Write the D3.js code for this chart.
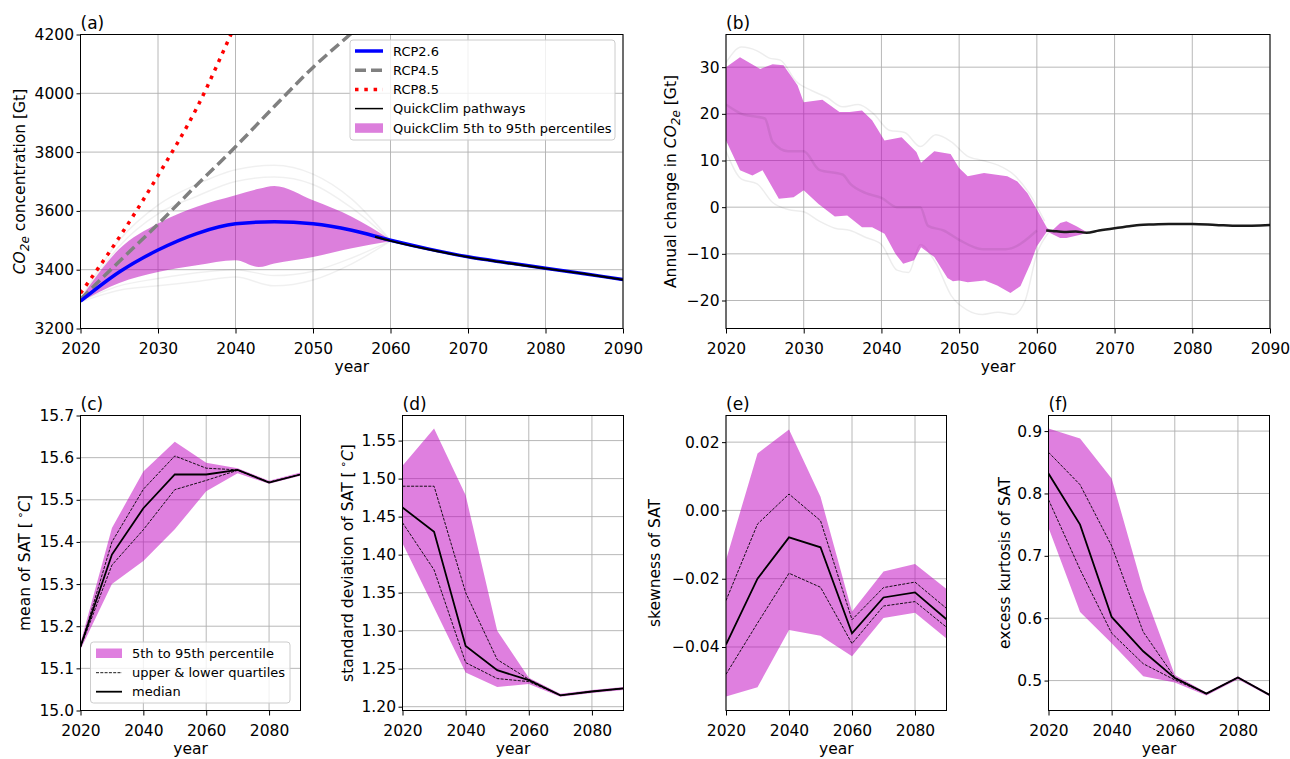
<!DOCTYPE html>
<html>
<head>
<meta charset="utf-8">
<script src="https://cdn.jsdelivr.net/npm/d3@7"></script>
<style>
body{margin:0;background:#fff;}
text{font-family:"DejaVu Sans",sans-serif;}
</style>
</head>
<body>
<script>
// ---- panel (a): CO2e concentration
var rcpYears   = [2020,2025,2030,2035,2040,2045,2050,2055,2060,2065,2070,2075,2080,2085,2090];
var rcp26      = [3293,3392,3467,3523,3556,3563,3556,3534,3500,3470,3444,3424,3405,3386,3367];
var rcp45Years = [2020,2025,2030,2035,2040,2045,2050,2055,2060];
var rcp45      = [3300,3428,3555,3688,3818,3955,4088,4205,4320];
var rcp85Years = [2020,2025,2030,2035,2040,2045];
var rcp85      = [3320,3510,3720,3950,4234,4520];
var bandAYears = [2020,2025,2030,2035,2040,2043,2045,2050,2055,2060];
var bandAHi    = [3300,3470,3557,3614,3653,3675,3685,3636,3580,3502];
var bandALo    = [3290,3355,3392,3415,3432,3409,3421,3443,3473,3497];
var pathAYears = [2020,2025,2030,2035,2040,2045,2050,2055,2060];
var pathAHi    = [3300,3500,3620,3690,3740,3755,3725,3640,3500];
var pathAHi2   = [3298,3480,3590,3650,3700,3715,3690,3610,3500];
var pathALo    = [3290,3330,3345,3360,3375,3345,3365,3420,3497];
var pathALo2   = [3292,3345,3370,3390,3400,3380,3395,3440,3498];
var tailAYears = [2058,2060,2065,2070,2075,2080,2085,2090];
var tailA      = [3512,3498,3469,3443,3423,3404,3386,3366];

// ---- panel (b): annual change
var bandBHi = [[2020,30],[2021.8,32.1],[2024.4,29.6],[2026,30.6],[2027.4,30.4],[2029.2,26.1],[2030,22.5],[2032.4,23.0],[2034.6,20.4],[2035.9,20.4],[2037.5,20.7],[2038.8,18.6],[2040.4,14.3],[2042.6,15.0],[2044.5,11.8],[2045.1,9.5],[2046.8,12.0],[2048.9,11.4],[2050,8.4],[2051.1,6.6],[2053.2,7.3],[2056.2,6.6],[2057.5,5.5],[2058.8,3.0],[2060,-0.5],[2061.3,-4.4],[2061.9,-5.1],[2063,-3.4],[2063.8,-3.0],[2065.1,-4.1],[2066.4,-5.3]];
var bandBLo = [[2020,14.3],[2021.8,7.9],[2023.4,6.8],[2024.7,7.9],[2026.8,1.8],[2028.7,2.1],[2030,3.6],[2031.9,0.7],[2034,-2.0],[2035.6,-1.8],[2037.5,-4.3],[2038.8,-4.3],[2040.4,-5.7],[2041.8,-10],[2042.8,-12.1],[2044.2,-11.4],[2045.1,-8.6],[2046.8,-10.7],[2048.5,-15.2],[2049.2,-15.9],[2050,-15.7],[2051.1,-16.1],[2053.3,-15.7],[2054.9,-16.8],[2056.6,-18.4],[2057.9,-16.9],[2059.2,-12.0],[2060,-8.4],[2061.3,-5.2],[2063,-6.6],[2063.8,-6.6],[2065.6,-5.9],[2066.4,-5.5]];
var pathBHi = [[2020,31],[2022,34.3],[2024,33.5],[2025.5,32],[2027,31.5],[2029,27],[2031,25],[2033,23.5],[2035,21.5],[2037,22],[2039,20],[2041,16.5],[2043,16],[2045,13],[2047,15.5],[2049,14],[2051,11],[2053,10],[2055,9],[2057,7],[2059,3],[2061,-3]];
var pathBLo = [[2020,12],[2022,6],[2024,5],[2026,1],[2028,-0.5],[2030,-1],[2032,-3],[2034,-4.5],[2036,-5],[2038,-6.5],[2040,-8],[2042,-13.5],[2043.5,-14],[2045,-8],[2047,-12],[2049,-19],[2051,-22],[2053,-23],[2055,-22.5],[2057,-23],[2058.5,-20],[2060,-10],[2061.5,-5.5]];
var pathBMid = [[2020,22],[2022,20],[2025,19],[2026,14],[2028,12],[2030,12],[2032,8],[2035,7],[2036,5],[2038,3],[2040,2],[2042,0],[2045,0],[2046,-4],[2048,-5],[2050,-7],[2053,-9],[2056,-9],[2060,-5]];
var tailB   = [[2061.2,-5],[2062,-5.1],[2063.5,-5.3],[2065,-5.2],[2066.4,-5.5],[2068,-5.0],[2070,-4.5],[2071.9,-4.1],[2073.2,-3.8],[2075,-3.7],[2077,-3.6],[2080,-3.6],[2083,-3.8],[2086,-4.0],[2090,-3.8]];

// ---- panels (c)-(f): SAT statistics per decade
var decades = [2020,2030,2040,2050,2060,2070,2080,2090];
var meanP95 = [15.16,15.433,15.567,15.638,15.588,15.575,15.545,15.565];
var meanP05 = [15.145,15.30,15.355,15.43,15.52,15.563,15.538,15.557];
var meanQ75 = [15.15,15.40,15.525,15.604,15.575,15.571,15.542,15.56];
var meanQ25 = [15.15,15.345,15.429,15.524,15.546,15.570,15.541,15.56];
var meanMed = [15.152,15.37,15.48,15.56,15.56,15.571,15.541,15.56];

var sdP95 = [1.517,1.566,1.478,1.300,1.238,1.217,1.222,1.226];
var sdP05 = [1.415,1.330,1.245,1.226,1.230,1.213,1.218,1.222];
var sdQ75 = [1.49,1.49,1.35,1.262,1.236,1.215,1.220,1.224];
var sdQ25 = [1.442,1.38,1.258,1.237,1.233,1.215,1.220,1.224];
var sdMed = [1.462,1.43,1.28,1.248,1.235,1.215,1.220,1.224];

var skP95 = [-0.0145,0.0167,0.0237,0.004,-0.0296,-0.0179,-0.0157,-0.023];
var skP05 = [-0.0545,-0.0518,-0.035,-0.0367,-0.0427,-0.0315,-0.030,-0.0375];
var skQ75 = [-0.0264,-0.004,0.0048,-0.003,-0.032,-0.0226,-0.021,-0.0287];
var skQ25 = [-0.048,-0.033,-0.0184,-0.0225,-0.039,-0.028,-0.0267,-0.0342];
var skMed = [-0.0393,-0.02,-0.0079,-0.0108,-0.036,-0.0255,-0.024,-0.0319];

var kuP95 = [0.904,0.888,0.824,0.646,0.509,0.481,0.507,0.479];
var kuP05 = [0.745,0.61,0.56,0.507,0.497,0.476,0.502,0.475];
var kuQ75 = [0.866,0.814,0.716,0.578,0.505,0.479,0.505,0.477];
var kuQ25 = [0.79,0.678,0.576,0.527,0.501,0.479,0.505,0.477];
var kuMed = [0.832,0.75,0.602,0.547,0.504,0.479,0.505,0.477];

var topTicksX = [2020,2030,2040,2050,2060,2070,2080,2090];
var lowTicksX = [2020,2040,2060,2080];

var svg = d3.select("body").append("svg").attr("width",1290).attr("height",759);

function makePanel(p){
  var x = d3.scaleLinear().domain(p.xDomain).range([p.left,p.right]);
  var y = d3.scaleLinear().domain(p.yDomain).range([p.bottom,p.top]);
  var g = svg.append("g");
  g.append("g").selectAll("line").data(p.xTicks).enter().append("line")
    .attr("x1",d=>x(d)).attr("x2",d=>x(d)).attr("y1",p.top).attr("y2",p.bottom)
    .attr("stroke","#b0b0b0").attr("stroke-width",0.9);
  g.append("g").selectAll("line").data(p.yTicks).enter().append("line")
    .attr("y1",d=>y(d)).attr("y2",d=>y(d)).attr("x1",p.left).attr("x2",p.right)
    .attr("stroke","#b0b0b0").attr("stroke-width",0.9);
  svg.append("clipPath").attr("id",p.id).append("rect")
    .attr("x",p.left).attr("y",p.top).attr("width",p.right-p.left).attr("height",p.bottom-p.top);
  var plot = g.append("g").attr("clip-path","url(#"+p.id+")");

  var xa = g.append("g").attr("transform","translate(0,"+p.bottom+")")
    .call(d3.axisBottom(x).tickValues(p.xTicks).tickFormat(d3.format("d")).tickSize(5).tickPadding(9));
  var ya = g.append("g").attr("transform","translate("+p.left+",0)")
    .call(d3.axisLeft(y).tickValues(p.yTicks).tickFormat(p.yFormat).tickSize(4).tickPadding(2.5));
  [xa,ya].forEach(function(a){
    a.select(".domain").remove();
    a.attr("font-family",null).attr("font-size",null);
    a.selectAll("text").attr("font-size",15.5).attr("fill","#000");
    a.selectAll("line").attr("stroke","#000").attr("stroke-width",1);
  });

  g.append("text").attr("x",(p.left+p.right)/2).attr("y",p.bottom+43)
    .attr("text-anchor","middle").attr("font-size",15.5).text("year");
  g.append("text").attr("x",p.left).attr("y",p.top-6)
    .attr("font-size",17).text(p.title);

  var yl = g.append("text").attr("transform","translate("+p.ylabelX+","+((p.top+p.bottom)/2)+") rotate(-90)")
    .attr("text-anchor","middle").attr("font-size",15.5);
  p.ylabel.forEach(function(s){
    var t = yl.append("tspan").text(s.t);
    if (s.it) t.attr("font-style","italic");
    if (s.fs) t.attr("font-size",s.fs);
    if (s.dy) t.attr("dy",s.dy);
  });
  return {x:x, y:y, g:g, plot:plot, p:p};
}

function frame(P){
  var p = P.p;
  P.g.append("rect").attr("x",p.left).attr("y",p.top).attr("width",p.right-p.left).attr("height",p.bottom-p.top)
    .attr("fill","none").attr("stroke","#000").attr("stroke-width",1);
}

// ===== (a)
var A = makePanel({id:"ca", left:80.5, right:623, top:34.5, bottom:328.5,
  xDomain:[2020,2090], yDomain:[3200,4200], xTicks:topTicksX,
  yTicks:[3200,3400,3600,3800,4000,4200], yFormat:d3.format("d"), title:"(a)", ylabelX:25,
  ylabel:[{t:"CO",it:1},{t:"2e",it:1,fs:12,dy:4},{t:" concentration [Gt]",dy:-4}]});

var lineA = d3.line().curve(d3.curveMonotoneX).x(d=>A.x(d[0])).y(d=>A.y(d[1]));
[pathAHi,pathAHi2,pathALo,pathALo2].forEach(function(v){
  A.plot.append("path").attr("d",lineA(d3.zip(pathAYears,v)))
    .attr("fill","none").attr("stroke","#000").attr("stroke-opacity",0.06).attr("stroke-width",1.5);
});
A.plot.append("path")
  .attr("d", d3.area().curve(d3.curveMonotoneX).x(d=>A.x(d[0])).y0(d=>A.y(d[2])).y1(d=>A.y(d[1]))(d3.zip(bandAYears,bandAHi,bandALo)))
  .attr("fill","#b900b9").attr("fill-opacity",0.5);
A.plot.append("path").attr("d",lineA(d3.zip(rcp85Years,rcp85)))
  .attr("fill","none").attr("stroke","#ff0000").attr("stroke-width",3.5).attr("stroke-dasharray","3.5,5.8");
A.plot.append("path").attr("d",lineA(d3.zip(rcp45Years,rcp45)))
  .attr("fill","none").attr("stroke","#808080").attr("stroke-width",3.5).attr("stroke-dasharray","11,5");
A.plot.append("path").attr("d",lineA(d3.zip(rcpYears,rcp26)))
  .attr("fill","none").attr("stroke","#0000ff").attr("stroke-width",3.5);
A.plot.append("path").attr("d",lineA(d3.zip(tailAYears,tailA)))
  .attr("fill","none").attr("stroke","#000").attr("stroke-width",2);
frame(A);

// legend (a)
var legA = svg.append("g");
legA.append("rect").attr("x",350).attr("y",40).attr("width",265).attr("height",100).attr("rx",3)
  .attr("fill","#fff").attr("fill-opacity",0.8).attr("stroke","#cccccc");
var legItems = [
  {t:"RCP2.6", c:"#0000ff", w:3.5, dash:null},
  {t:"RCP4.5", c:"#808080", w:3.5, dash:"11,5"},
  {t:"RCP8.5", c:"#ff0000", w:3.5, dash:"3.5,5.8"},
  {t:"QuickClim pathways", c:"#000", w:1.5, dash:null},
  {t:"QuickClim 5th to 95th percentiles", patch:true}
];
legItems.forEach(function(d,i){
  var cy = 51 + i*19.2;
  if (d.patch){
    legA.append("rect").attr("x",355).attr("y",cy-4.5).attr("width",28).attr("height",9.5)
      .attr("fill","#b900b9").attr("fill-opacity",0.5);
  } else {
    var l = legA.append("line").attr("x1",355).attr("x2",383).attr("y1",cy).attr("y2",cy)
      .attr("stroke",d.c).attr("stroke-width",d.w);
    if (d.dash) l.attr("stroke-dasharray",d.dash);
  }
  legA.append("text").attr("x",393).attr("y",cy+4.7).attr("font-size",13).text(d.t);
});

// ===== (b)
var B = makePanel({id:"cb", left:726, right:1270, top:34.5, bottom:328.5,
  xDomain:[2020,2090], yDomain:[-26,37], xTicks:topTicksX,
  yTicks:[-20,-10,0,10,20,30], yFormat:d3.format("d"), title:"(b)", ylabelX:676,
  ylabel:[{t:"Annual change in "},{t:"CO",it:1},{t:"2e",it:1,fs:12,dy:4},{t:" [Gt]",dy:-4}]});

var lineB = d3.line().x(d=>B.x(d[0])).y(d=>B.y(d[1]));
var smoothB = d3.line().curve(d3.curveMonotoneX).x(d=>B.x(d[0])).y(d=>B.y(d[1]));
[pathBHi,pathBLo].forEach(function(v){
  B.plot.append("path").attr("d",smoothB(v)).attr("fill","none")
    .attr("stroke","#000").attr("stroke-opacity",0.07).attr("stroke-width",1.5);
});
B.plot.append("path").attr("d",lineB(bandBHi.concat(bandBLo.slice().reverse()))+"Z")
  .attr("fill","#bf00bf").attr("fill-opacity",0.53);
B.plot.append("path").attr("d",smoothB(pathBMid)).attr("fill","none")
  .attr("stroke","#000").attr("stroke-opacity",0.07).attr("stroke-width",2.5);
B.plot.append("path").attr("d",smoothB(tailB)).attr("fill","none")
  .attr("stroke","#1a1a1a").attr("stroke-width",2.5);
frame(B);

// ===== (c)-(f)
function statPanel(cfg, p95, p05, q75, q25, med){
  var P = makePanel(cfg);
  var rows = d3.zip(decades, p95, p05, q75, q25, med);
  P.plot.append("path")
    .attr("d", d3.area().x(d=>P.x(d[0])).y0(d=>P.y(d[2])).y1(d=>P.y(d[1]))(rows))
    .attr("fill","#bf00bf").attr("fill-opacity",0.5);
  [3,4].forEach(function(k){
    P.plot.append("path").attr("d", d3.line().x(d=>P.x(d[0])).y(d=>P.y(d[k]))(rows))
      .attr("fill","none").attr("stroke","#000").attr("stroke-width",0.9).attr("stroke-dasharray","3,1.3");
  });
  P.plot.append("path").attr("d", d3.line().x(d=>P.x(d[0])).y(d=>P.y(d[5]))(rows))
    .attr("fill","none").attr("stroke","#000").attr("stroke-width",1.8);
  frame(P);
  return P;
}

var degLabel = function(name){
  return [{t:name+" ["},{t:" \u2218",fs:11,dy:-6},{t:"C",it:1,dy:6},{t:"]"}];
};

statPanel({id:"cc", left:80.5, right:300.5, top:415.5, bottom:710.5,
  xDomain:[2020,2090], yDomain:[15.0,15.7], xTicks:lowTicksX,
  yTicks:[15.0,15.1,15.2,15.3,15.4,15.5,15.6,15.7], yFormat:d3.format(".1f"), title:"(c)", ylabelX:30,
  ylabel:degLabel("mean of SAT")}, meanP95, meanP05, meanQ75, meanQ25, meanMed);

statPanel({id:"cd", left:402.5, right:623.5, top:415.5, bottom:710.5,
  xDomain:[2020,2090], yDomain:[1.195,1.583], xTicks:lowTicksX,
  yTicks:[1.20,1.25,1.30,1.35,1.40,1.45,1.50,1.55], yFormat:d3.format(".2f"), title:"(d)", ylabelX:353,
  ylabel:degLabel("standard deviation of SAT")}, sdP95, sdP05, sdQ75, sdQ25, sdMed);

statPanel({id:"ce", left:726, right:946.5, top:415.5, bottom:710.5,
  xDomain:[2020,2090], yDomain:[-0.0586,0.0278], xTicks:lowTicksX,
  yTicks:[-0.04,-0.02,0,0.02], yFormat:d3.format(".2f"), title:"(e)", ylabelX:660,
  ylabel:[{t:"skewness of SAT"}]}, skP95, skP05, skQ75, skQ25, skMed);

statPanel({id:"cf", left:1048.5, right:1269.5, top:415.5, bottom:710.5,
  xDomain:[2020,2090], yDomain:[0.452,0.925], xTicks:lowTicksX,
  yTicks:[0.5,0.6,0.7,0.8,0.9], yFormat:d3.format(".1f"), title:"(f)", ylabelX:1010,
  ylabel:[{t:"excess kurtosis of SAT"}]}, kuP95, kuP05, kuQ75, kuQ25, kuMed);

// legend (c)
var legC = svg.append("g");
legC.append("rect").attr("x",90.5).attr("y",642).attr("width",199.5).attr("height",61).attr("rx",3)
  .attr("fill","#fff").attr("fill-opacity",0.8).attr("stroke","#cccccc");
legC.append("rect").attr("x",96).attr("y",648.5).attr("width",26).attr("height",9.5)
  .attr("fill","#bf00bf").attr("fill-opacity",0.5);
legC.append("line").attr("x1",96).attr("x2",122).attr("y1",672.7).attr("y2",672.7)
  .attr("stroke","#000").attr("stroke-width",0.9).attr("stroke-dasharray","3,1.3");
legC.append("line").attr("x1",96).attr("x2",122).attr("y1",691.7).attr("y2",691.7)
  .attr("stroke","#000").attr("stroke-width",1.8);
["5th to 95th percentile","upper & lower quartiles","median"].forEach(function(t,i){
  legC.append("text").attr("x",132).attr("y",[653.2,672.7,691.7][i]+4.7).attr("font-size",13).text(t);
});
</script>
</body>
</html>
